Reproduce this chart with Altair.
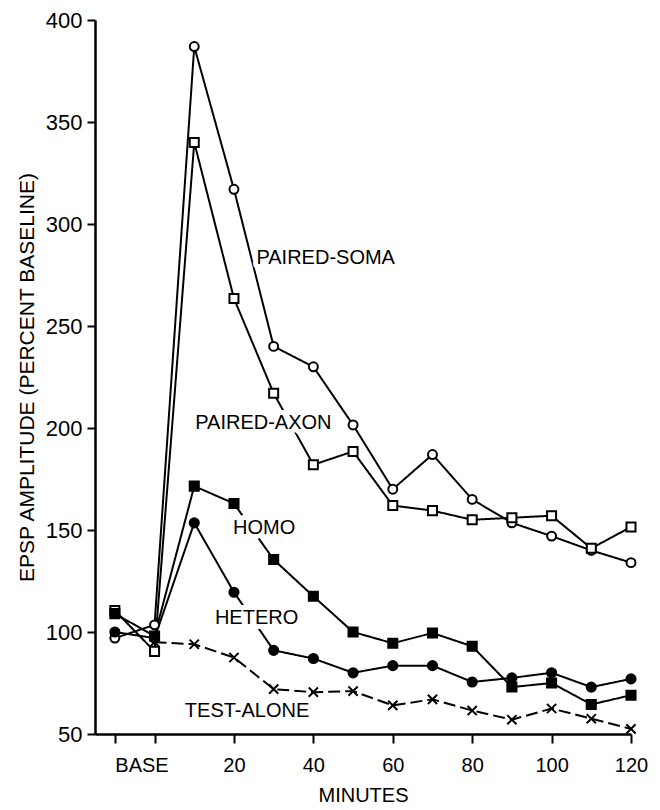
import altair as alt
import pandas as pd

# ---- data ----
minutes = [-10, 0, 10, 20, 30, 40, 50, 60, 70, 80, 90, 100, 110, 120]

paired_soma = [97, 103.5, 387, 317, 240, 230, 201.5, 170, 187, 165, 153.5, 147, 140, 134]
paired_axon = [110.5, 90.5, 340, 263.5, 217, 182, 188.5, 162, 159.5, 155, 156, 157, 141, 151.5]
homo = [109, 98, 171.5, 163, 135.5, 117.5, 100, 94.5, 99.5, 93, 73, 75, 64.5, 69]
hetero = [100, 97, 153.5, 119.5, 91, 87, 80, 83.5, 83.5, 75.5, 77.5, 80, 73, 77]
test_alone = [None, 95, 94, 87.5, 72, 70.5, 71, 64, 67, 61.5, 57, 62.5, 57.5, 52.5]

series_names = ["PAIRED-SOMA", "PAIRED-AXON", "HOMO", "HETERO", "TEST-ALONE"]
series_values = [paired_soma, paired_axon, homo, hetero, test_alone]

# annotation anchors (data coordinates)
label_minute = [43.1, 27.4, 27.6, 25.7, 23.3]
label_value = [283.3, 202.5, 151, 106.9, 61.3]

x_ticks = [-10, 0, 20, 40, 60, 80, 100, 120]
y_ticks = [50, 100, 150, 200, 250, 300, 350, 400]

rows = []
for name, vals in zip(series_names, series_values):
    for m, v in zip(minutes, vals):
        if v is not None:
            rows.append({"minute": m, "value": v, "series": name})
df = pd.DataFrame(rows)

labels = pd.DataFrame({"text": series_names, "minute": label_minute, "value": label_value})

FONT = "Liberation Sans"

xscale = alt.Scale(domain=[-15, 120], nice=False, zero=False)
yscale = alt.Scale(domain=[50, 400], nice=False, zero=False)

x_axis = alt.Axis(
    values=x_ticks,
    labelExpr="datum.value == -10 ? 'BASE' : (datum.value == 0 ? '' : datum.label)",
    labelAlign={"condition": {"test": "datum.value == -10", "value": "left"}, "value": "center"},
    title="MINUTES",
    grid=False,
    tickSize=9,
    labelPadding=12,
    labelFontSize=20,
    titleFontSize=20,
    titlePadding=10,
    titleColor="black",
    titleFontWeight="normal",
    labelFlush=False,
    labelOverlap=False,
)
y_axis = alt.Axis(
    values=y_ticks,
    title="EPSP AMPLITUDE (PERCENT BASELINE)",
    grid=False,
    tickSize=8,
    labelPadding=5,
    labelFontSize=22,
    titleFontSize=21,
    titlePadding=8,
    titleColor="black",
    titleFontWeight="normal",
    labelFlush=False,
    labelOverlap=False,
)

X = alt.X("minute:Q", scale=xscale, axis=x_axis)
Y = alt.Y("value:Q", scale=yscale, axis=y_axis)

dash_scale = alt.Scale(domain=series_names,
                       range=[[1, 0], [1, 0], [1, 0], [1, 0], [12, 5]])
shape_scale = alt.Scale(domain=series_names,
                        range=["circle", "square", "square", "circle",
                               "M-1,-1L1,1M-1,1L1,-1"])
fill_scale = alt.Scale(domain=series_names,
                       range=["white", "white", "black", "black", "white"])
size_scale = alt.Scale(domain=series_names, range=[80, 85, 85, 70, 45])

lines = alt.Chart(df).mark_line(color="black", strokeWidth=2).encode(
    x=X, y=Y,
    detail="series:N",
    strokeDash=alt.StrokeDash("series:N", scale=dash_scale, legend=None),
)

halo = alt.Chart(labels).mark_text(
    font=FONT, fontSize=20, fill="white", stroke="white", strokeWidth=10,
    strokeJoin="round", align="center", baseline="middle"
).encode(x=X, y=Y, text="text:N")

points = alt.Chart(df).mark_point(
    stroke="black", strokeWidth=2, fillOpacity=1, opacity=1
).encode(
    x=X, y=Y,
    shape=alt.Shape("series:N", scale=shape_scale, legend=None),
    fill=alt.Fill("series:N", scale=fill_scale, legend=None),
    size=alt.Size("series:N", scale=size_scale, legend=None),
)

texts = alt.Chart(labels).mark_text(
    font=FONT, fontSize=20, color="black", align="center", baseline="middle"
).encode(x=X, y=Y, text="text:N")

chart = alt.layer(lines, halo, points, texts).properties(
    width=536,
    height=714,
    autosize=alt.AutoSizeParams(type="none"),
    padding={"left": 95, "top": 20, "right": 29, "bottom": 76},
    background="white",
).configure_view(stroke=None).configure_axis(
    domainColor="black", domainWidth=2.5, tickColor="black", tickWidth=2,
    labelColor="black", titleColor="black", labelFont=FONT, titleFont=FONT,
    titleFontWeight="normal",
)

chart.save("out.html", embed_options={"renderer": "svg", "actions": False})
